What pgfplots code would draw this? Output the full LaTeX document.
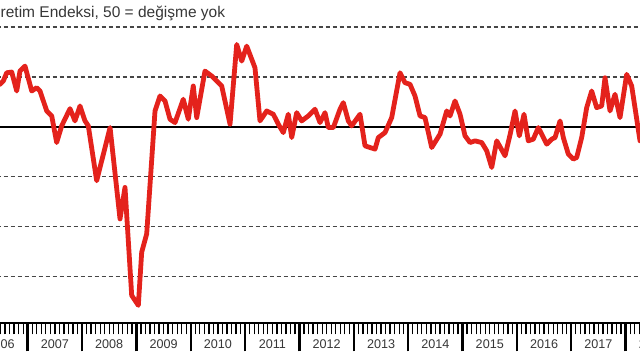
\documentclass[border=0pt]{standalone}
\usepackage{pgfplots}
\pgfplotsset{compat=1.18}
\usepackage{fontspec}
\setmainfont{Liberation Sans}
\definecolor{pmired}{RGB}{228,34,28}
\definecolor{txt}{RGB}{55,55,55}
\definecolor{gridc}{RGB}{70,70,70}
\begin{document}
\begin{tikzpicture}[x=1pt,y=1pt]
\useasboundingbox (0,0) rectangle (640,360);
\clip (0,0) rectangle (640,360);
\fill[white] (0,0) rectangle (640,360);
\node[anchor=base west, inner sep=0pt, text=txt, font=\fontsize{15.5}{18}\selectfont] at (0.5,342.7) {retim Endeksi, 50 = değişme yok};
\begin{axis}[
  at={(-10.35pt,36.7pt)}, anchor=south west,
  x=54.36pt, y=9.97pt,
  xmin=2006.3, xmax=2018.7, ymin=30.3, ymax=62,
  axis x line*=bottom, axis y line*=left,
  y axis line style={draw=none},
  x axis line style={line width=2pt, black},
  ytick={35,40,45,55,60}, yticklabels={}, ytick style={draw=none},
  ymajorgrids,
  major grid style={gridc, line width=1.4pt, dash pattern=on 4pt off 3pt},
  extra y ticks={50}, extra y tick labels={},
  extra y tick style={grid=major, major grid style={solid, black, line width=1.4pt}, tick style={draw=none}},
  xtick={2006.5,2007.5,...,2018.5},
  xticklabels={2006,2007,2008,2009,2010,2011,2012,2013,2014,2015,2016,2017,2018},
  tick align=outside,
  major tick length=0pt,
  minor xtick={2006.0000,2006.0833,2006.1667,2006.2500,2006.3333,2006.4167,2006.5000,2006.5833,2006.6667,2006.7500,2006.8333,2006.9167,
               2007.0000,2007.0833,2007.1667,2007.2500,2007.3333,2007.4167,2007.5000,2007.5833,2007.6667,2007.7500,2007.8333,2007.9167,
               2008.0000,2008.0833,2008.1667,2008.2500,2008.3333,2008.4167,2008.5000,2008.5833,2008.6667,2008.7500,2008.8333,2008.9167,
               2009.0000,2009.0833,2009.1667,2009.2500,2009.3333,2009.4167,2009.5000,2009.5833,2009.6667,2009.7500,2009.8333,2009.9167,
               2010.0000,2010.0833,2010.1667,2010.2500,2010.3333,2010.4167,2010.5000,2010.5833,2010.6667,2010.7500,2010.8333,2010.9167,
               2011.0000,2011.0833,2011.1667,2011.2500,2011.3333,2011.4167,2011.5000,2011.5833,2011.6667,2011.7500,2011.8333,2011.9167,
               2012.0000,2012.0833,2012.1667,2012.2500,2012.3333,2012.4167,2012.5000,2012.5833,2012.6667,2012.7500,2012.8333,2012.9167,
               2013.0000,2013.0833,2013.1667,2013.2500,2013.3333,2013.4167,2013.5000,2013.5833,2013.6667,2013.7500,2013.8333,2013.9167,
               2014.0000,2014.0833,2014.1667,2014.2500,2014.3333,2014.4167,2014.5000,2014.5833,2014.6667,2014.7500,2014.8333,2014.9167,
               2015.0000,2015.0833,2015.1667,2015.2500,2015.3333,2015.4167,2015.5000,2015.5833,2015.6667,2015.7500,2015.8333,2015.9167,
               2016.0000,2016.0833,2016.1667,2016.2500,2016.3333,2016.4167,2016.5000,2016.5833,2016.6667,2016.7500,2016.8333,2016.9167,
               2017.0000,2017.0833,2017.1667,2017.2500,2017.3333,2017.4167,2017.5000,2017.5833,2017.6667,2017.7500,2017.8333,2017.9167,
               2018.0000,2018.0833,2018.1667,2018.2500,2018.3333,2018.4167,2018.5000,2018.5833,2018.6667},
  minor tick length=11pt,
  minor x tick style={line width=1.3pt, black},
  extra x ticks={2006,2007,...,2019}, extra x tick labels={},
  extra x tick style={major tick length=28pt, tick style={line width=2.4pt, black}},
  xticklabel style={font=\fontsize{12.6}{14}\selectfont, text=txt, anchor=base, yshift=-25.2pt},
]
\addplot[pmired, line width=4.8pt, line join=round, line cap=round] coordinates {
(2006.490,54.27) (2006.551,54.60) (2006.614,55.43) (2006.706,55.50) (2006.798,53.60)
(2006.858,55.60) (2006.950,56.10) (2007.074,53.60) (2007.166,53.93) (2007.226,53.60)
(2007.350,51.60) (2007.442,51.10) (2007.533,48.43) (2007.625,50.10) (2007.778,51.83)
(2007.870,50.60) (2007.962,52.10) (2008.054,50.60) (2008.115,50.10) (2008.269,44.60)
(2008.515,49.93) (2008.698,40.77) (2008.790,43.93) (2008.913,33.10) (2009.035,32.10)
(2009.097,37.43) (2009.189,39.27) (2009.342,51.60) (2009.434,53.10) (2009.526,52.60)
(2009.618,50.77) (2009.710,50.43) (2009.862,52.77) (2009.954,50.77) (2010.046,54.10)
(2010.109,50.93) (2010.261,55.60) (2010.385,55.10) (2010.569,54.10) (2010.722,50.27)
(2010.845,58.27) (2010.937,56.60) (2011.029,58.10) (2011.181,55.93) (2011.273,50.60)
(2011.397,51.60) (2011.518,51.27) (2011.610,50.27) (2011.702,49.43) (2011.794,51.27)
(2011.857,48.93) (2011.948,51.43) (2012.040,50.60) (2012.162,51.10) (2012.285,51.77)
(2012.377,50.43) (2012.469,51.43) (2012.530,49.93) (2012.622,49.93) (2012.745,51.77)
(2012.806,52.43) (2012.898,50.60) (2012.960,50.10) (2013.113,51.27) (2013.205,48.10)
(2013.389,47.77) (2013.450,48.93) (2013.573,49.43) (2013.696,50.93) (2013.849,55.43)
(2013.941,54.43) (2014.033,54.27) (2014.125,53.10) (2014.217,51.10) (2014.309,50.93)
(2014.432,47.93) (2014.585,49.27) (2014.708,51.60) (2014.769,51.10) (2014.861,52.60)
(2014.953,51.27) (2015.045,49.10) (2015.137,48.43) (2015.229,48.60) (2015.352,48.43)
(2015.444,47.60) (2015.536,45.93) (2015.628,48.60) (2015.781,47.10) (2015.873,49.20)
(2015.965,51.60) (2016.044,49.10) (2016.130,51.27) (2016.209,48.60) (2016.301,48.77)
(2016.393,49.93) (2016.456,49.27) (2016.548,48.27) (2016.640,48.77) (2016.701,48.93)
(2016.793,50.60) (2016.853,48.93) (2016.945,47.27) (2017.037,46.77) (2017.099,46.93)
(2017.191,48.93) (2017.283,51.93) (2017.375,53.60) (2017.467,51.93) (2017.559,52.10)
(2017.620,54.93) (2017.712,51.60) (2017.804,53.27) (2017.896,50.93) (2018.019,55.27)
(2018.111,54.10) (2018.264,48.60)
};
\end{axis}
\end{tikzpicture}
\end{document}
